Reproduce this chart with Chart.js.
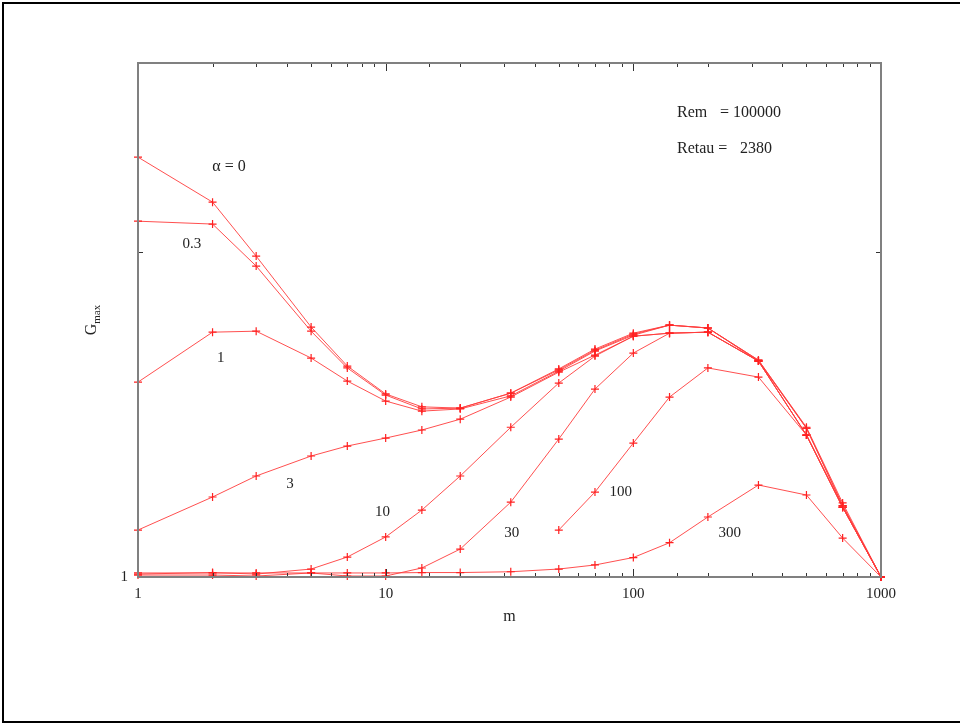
<!DOCTYPE html>
<html>
<head>
<meta charset="utf-8">
<script src="https://cdn.jsdelivr.net/npm/chart.js@4.4.1/dist/chart.umd.min.js"></script>
<style>
  html, body { margin: 0; padding: 0; background: #fff; }
  #wrap { width: 960px; height: 724px; }
</style>
</head>
<body>
<div id="wrap"><canvas id="gmaxChart" width="960" height="724"></canvas></div>
<script>
// wavenumber m, every curve shares these (alpha = 100 starts at m = 50)
const mValues = [1, 2, 3, 5, 7, 10, 14, 20, 32, 50, 70, 100, 140, 200, 320, 500, 700, 1000];
const mValuesAlpha100 = [50, 70, 100, 140, 200, 320, 500, 700, 1000];

const gAlpha0   = [19.6, 14.25, 9.72, 5.88, 4.46, 3.66, 3.34, 3.31, 3.68, 4.37, 5.03, 5.63, 5.96, 5.84, 4.65, 2.89, 1.69, 1];
const gAlpha03  = [12.45, 12.2, 9.06, 5.71, 4.40, 3.63, 3.29, 3.31, 3.68, 4.34, 4.99, 5.59, 5.96, 5.84, 4.62, 2.87, 1.66, 1];
const gAlpha1   = [3.98, 5.67, 5.71, 4.72, 4.01, 3.48, 3.24, 3.29, 3.61, 4.30, 4.96, 5.55, 5.96, 5.84, 4.65, 2.87, 1.66, 1];
const gAlpha3   = [1.395, 1.763, 2.046, 2.357, 2.53, 2.677, 2.834, 3.06, 3.58, 4.27, 4.82, 5.51, 5.63, 5.67, 4.62, 2.735, 1.64, 1];
const gAlpha10  = [1.021, 1.032, 1.021, 1.058, 1.152, 1.328, 1.607, 2.046, 2.89, 3.954, 4.786, 5.51, 5.63, 5.67, 4.62, 2.735, 1.64, 1];
const gAlpha30  = [1.014, 1.014, 1.007, 1.029, 1.007, 1.007, 1.066, 1.219, 1.70, 2.658, 3.789, 4.89, 5.63, 5.67, 4.62, 2.735, 1.64, 1];
const gAlpha100 = [1.395, 1.826, 2.584, 3.58, 4.40, 4.124, 2.735, 1.64, 1];
const gAlpha300 = [1.029, 1.029, 1.029, 1.029, 1.029, 1.029, 1.032, 1.032, 1.038, 1.058, 1.089, 1.148, 1.275, 1.53, 1.919, 1.788, 1.318, 1];

const xTickLabels = [1, 10, 100, 1000];
const yTickLabels = [1];

// curve labels, placed in data coordinates [m, G]
const curveNotes = [
  { text: '\u03b1 = 0', m: 2.33, g: 18.3, size: 16 },
  { text: '0.3', m: 1.65, g: 10.6, size: 15 },
  { text: '1', m: 2.16, g: 4.72, size: 15 },
  { text: '3', m: 4.11, g: 1.93, size: 15 },
  { text: '10', m: 9.7, g: 1.59, size: 15 },
  { text: '30', m: 32.3, g: 1.37, size: 15 },
  { text: '100', m: 89, g: 1.83, size: 15 },
  { text: '300', m: 245, g: 1.37, size: 15 },
];

const SERIF = '"Liberation Serif", "DejaVu Serif", serif';

function toPoints(xs, ys) {
  return xs.map((x, i) => ({ x, y: ys[i] }));
}

function curve(xs, ys) {
  return {
    data: toPoints(xs, ys),
    borderColor: 'rgba(255, 60, 60, 0.9)',
    borderWidth: 1,
    pointStyle: 'cross',
    pointRadius: 4,
    pointBorderColor: '#ff2020',
    pointBorderWidth: 1.2,
    pointBackgroundColor: '#ff2020',
    tension: 0,
    fill: false,
    clip: false,
  };
}

const framePlugin = {
  id: 'frame',
  beforeDraw(chart) {
    const c = chart.ctx;
    c.save();
    c.fillStyle = '#fff';
    c.fillRect(0, 0, chart.width, chart.height);
    c.strokeStyle = '#000';
    c.lineWidth = 2;
    c.strokeRect(3, 3, chart.width + 10, chart.height - 5);
    c.restore();
  },
  afterDatasetsDraw(chart) {
    const { ctx, chartArea: a, scales } = chart;
    const x = scales.x, y = scales.y;
    ctx.save();

    // inward tick marks, top and bottom
    ctx.strokeStyle = '#333';
    ctx.lineWidth = 1;
    x.ticks.forEach((t) => {
      if (t.value <= 1 || t.value >= 1000) return;
      const px = Math.round(x.getPixelForValue(t.value)) + 0.5;
      const len = xTickLabels.includes(t.value) ? 8 : 4;
      ctx.beginPath();
      ctx.moveTo(px, a.bottom); ctx.lineTo(px, a.bottom - len);
      ctx.moveTo(px, a.top); ctx.lineTo(px, a.top + len);
      ctx.stroke();
    });
    // one mid tick on left and right
    const py = Math.round(y.getPixelForValue(10)) + 0.5;
    ctx.beginPath();
    ctx.moveTo(a.left, py); ctx.lineTo(a.left + 5, py);
    ctx.moveTo(a.right, py); ctx.lineTo(a.right - 5, py);
    ctx.stroke();

    // frame
    ctx.strokeStyle = '#808080';
    ctx.lineWidth = 2;
    ctx.strokeRect(a.left, a.top, a.right - a.left, a.bottom - a.top);

    // curve labels
    ctx.fillStyle = '#222';
    ctx.textAlign = 'center';
    ctx.textBaseline = 'middle';
    curveNotes.forEach((n) => {
      ctx.font = n.size + 'px ' + SERIF;
      ctx.fillText(n.text, x.getPixelForValue(n.m), y.getPixelForValue(n.g));
    });

    // parameters box
    ctx.font = '16px ' + SERIF;
    ctx.textAlign = 'left';
    ctx.fillText('Rem', 677, 113);
    ctx.fillText('= 100000', 720, 113);
    ctx.fillText('Retau =', 677, 149);
    ctx.fillText('2380', 740, 149);

    // axis titles
    ctx.textAlign = 'center';
    ctx.font = '16px ' + SERIF;
    ctx.fillText('m', (a.left + a.right) / 2, 617);

    ctx.translate(92, (a.top + a.bottom) / 2);
    ctx.rotate(-Math.PI / 2);
    ctx.textAlign = 'left';
    ctx.font = '16px ' + SERIF;
    const gw = ctx.measureText('G').width;
    ctx.font = '11px ' + SERIF;
    const mw = ctx.measureText('max').width;
    const start = -(gw + mw) / 2;
    ctx.font = '16px ' + SERIF;
    ctx.fillText('G', start, 0);
    ctx.font = '11px ' + SERIF;
    ctx.fillText('max', start + gw, 5);

    ctx.restore();
  },
};

const ctx = document.getElementById('gmaxChart').getContext('2d');
new Chart(ctx, {
  type: 'line',
  data: {
    datasets: [
      curve(mValues, gAlpha0),
      curve(mValues, gAlpha03),
      curve(mValues, gAlpha1),
      curve(mValues, gAlpha3),
      curve(mValues, gAlpha10),
      curve(mValues, gAlpha30),
      curve(mValuesAlpha100, gAlpha100),
      curve(mValues, gAlpha300),
    ],
  },
  options: {
    responsive: false,
    animation: false,
    events: [],
    layout: { padding: { top: 63, right: 79, left: 0, bottom: 0 } },
    plugins: { legend: { display: false }, tooltip: { enabled: false } },
    scales: {
      x: {
        type: 'logarithmic',
        min: 1,
        max: 1000,
        grid: { display: false },
        border: { display: false },
        ticks: {
          autoSkip: false,
          maxRotation: 0,
          padding: 0,
          color: '#222',
          font: { family: SERIF, size: 15 },
          callback: (v) => (xTickLabels.includes(v) ? String(v) : ''),
        },
        afterFit: (s) => { s.height = 147; },
      },
      y: {
        type: 'logarithmic',
        min: 1,
        max: 38.2,
        grid: { display: false },
        border: { display: false },
        ticks: {
          autoSkip: false,
          padding: 2,
          color: '#222',
          font: { family: SERIF, size: 15 },
          callback: (v) => (yTickLabels.includes(v) ? String(v) : ''),
        },
        afterFit: (s) => { s.width = 138; },
      },
    },
  },
  plugins: [framePlugin],
});
</script>
</body>
</html>
